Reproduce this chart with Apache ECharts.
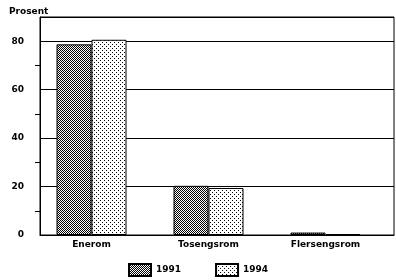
<!DOCTYPE html>
<html>
<head>
<meta charset="utf-8">
<script src="https://cdn.jsdelivr.net/npm/echarts@6/dist/echarts.min.js"></script>
<style>
  html, body { margin: 0; padding: 0; background: #fff; }
  #chart { width: 396px; height: 280px; }
</style>
</head>
<body>
<div id="chart"></div>
<script>
const categories = ["Enerom", "Tosengsrom", "Flersengsrom"];
const values1991 = [78.7, 20.3, 1.0];
const values1994 = [80.6, 19.4, 0.4];
const yLabelValues = [0, 20, 40, 60, 80];
const yMinorTicks = [10, 30, 50, 70];

// mønster for stolpene
function makePattern(kind) {
  const c = document.createElement("canvas");
  c.width = 4;
  c.height = 4;
  const ctx = c.getContext("2d");
  ctx.fillStyle = "#fff";
  ctx.fillRect(0, 0, 4, 4);
  ctx.fillStyle = "#000";
  if (kind === "check") {
    for (let y = 0; y < 4; y++) {
      for (let x = 0; x < 4; x++) {
        if ((x + y) % 2 === 0) ctx.fillRect(x, y, 1, 1);
      }
    }
  } else {
    ctx.fillRect(0, 0, 1, 1);
    ctx.fillRect(2, 2, 1, 1);
  }
  return { image: c, repeat: "repeat" };
}

const font = { fontFamily: "DejaVu Sans", fontWeight: "bold", fontSize: 9, color: "#000" };

const chart = echarts.init(document.getElementById("chart"), null, { renderer: "canvas" });
chart.setOption({
  animation: false,
  title: {
    text: "Prosent",
    left: 4,
    top: 2,
    textStyle: font,
  },
  legend: {
    left: 128,
    top: 263,
    padding: 0,
    itemWidth: 22,
    itemHeight: 12,
    itemGap: 34,
    icon: "rect",
    textStyle: font,
    data: ["1991", "1994"],
  },
  grid: [
    { left: 40, right: 2, top: 17, bottom: 45, show: true, borderColor: "#000", borderWidth: 1, backgroundColor: "transparent" },
    { left: 33, right: 12, top: 17, bottom: 45 },
  ],
  xAxis: [
    {
      gridIndex: 0,
      type: "category",
      data: categories,
      axisLine: { lineStyle: { color: "#000" } },
      axisTick: { show: false },
      axisLabel: { show: false },
    },
    {
      gridIndex: 1,
      type: "category",
      data: categories,
      axisLine: { show: false },
      axisTick: { show: false },
      axisLabel: { margin: 5, ...font },
    },
  ],
  yAxis: [
    {
      gridIndex: 0,
      type: "value",
      min: 0,
      max: 90,
      interval: 20,
      axisLine: { show: true, lineStyle: { color: "#000" } },
      axisTick: { show: false },
      axisLabel: { margin: 16, customValues: yLabelValues, ...font },
      splitLine: { show: true, lineStyle: { color: "#000", width: 1 } },
    },
    {
      // bare de små strekene mellom tallene
      gridIndex: 0,
      type: "value",
      position: "left",
      min: 0,
      max: 90,
      axisLine: { show: false },
      axisTick: { show: true, length: 5, customValues: yMinorTicks, lineStyle: { color: "#000" } },
      axisLabel: { show: false },
      splitLine: { show: false },
    },
    {
      gridIndex: 1,
      type: "value",
      min: 0,
      max: 90,
      show: false,
      splitLine: { show: false },
    },
  ],
  series: [
    {
      name: "1991",
      type: "bar",
      xAxisIndex: 1,
      yAxisIndex: 2,
      data: values1991,
      barWidth: 35,
      barGap: "0%",
      itemStyle: { color: makePattern("check"), borderColor: "#000", borderWidth: 1 },
    },
    {
      name: "1994",
      type: "bar",
      xAxisIndex: 1,
      yAxisIndex: 2,
      data: values1994,
      barWidth: 35,
      barGap: "0%",
      itemStyle: { color: makePattern("dots"), borderColor: "#000", borderWidth: 1 },
    },
  ],
});
</script>
</body>
</html>
